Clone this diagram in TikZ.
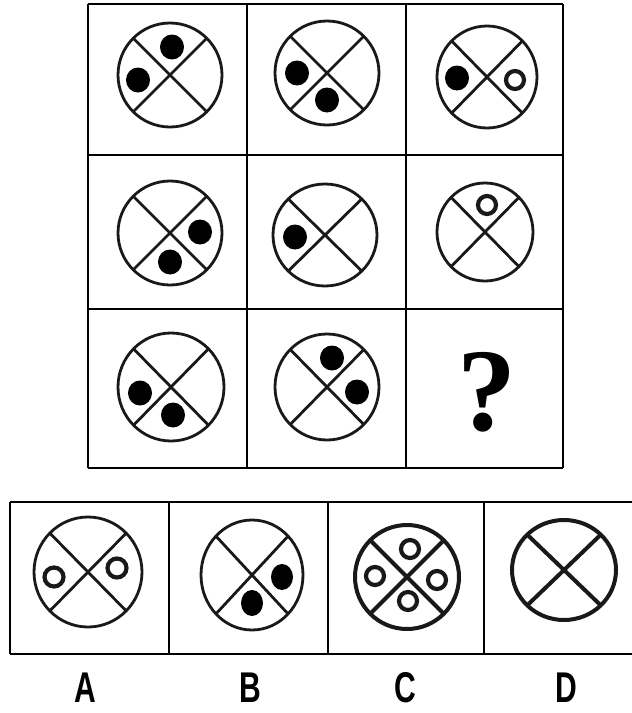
\documentclass[tikz,border=0pt]{standalone}
\usepackage{fontspec}
\newfontfamily\lblfont{Liberation Sans}
\newfontfamily\qfont{Liberation Serif}
\usetikzlibrary{calc}

% one crossed disc: [style] centre, x radius, y radius
\newcommand{\emblem}[4][rim]{%
  \draw[#1] (#2) ellipse[x radius=#3, y radius=#4];
  \draw[#1] ($(#2)+(-0.707*#3,-0.707*#4)$) -- ($(#2)+(0.707*#3,0.707*#4)$);
  \draw[#1] ($(#2)+(-0.707*#3,0.707*#4)$) -- ($(#2)+(0.707*#3,-0.707*#4)$);
}

\begin{document}
\begin{tikzpicture}[
  x=1pt, y=-1pt,
  frame/.style  = {black, line width=2pt},
  rim/.style    = {black!90, line width=2.8pt},
  rimbold/.style= {black!90, line width=4pt},
  dot/.style    = {fill=black},
  hole/.style   = {draw=black!90, line width=4.2pt},
  qmark/.style  = {font=\qfont\bfseries\fontsize{118}{118}\selectfont, inner sep=0pt},
  optlbl/.style = {font=\lblfont\bfseries\fontsize{43}{43}\selectfont, xscale=0.7, inner sep=0pt},
]
\useasboundingbox (0,0) rectangle (632,713);

%% ------------------------------------------------------------------ GRID
\foreach \x in {88,247,406,563}
  \draw[frame] (\x,4) -- (\x,468);
\foreach \y in {4,155,309,468}
  \draw[frame] (88,\y) -- (563,\y);

\coordinate (e11) at (170,75);
\coordinate (e12) at (327,73);
\coordinate (e13) at (487,77);
\coordinate (e21) at (170,233);
\coordinate (e22) at (325,235);
\coordinate (e23) at (485,232);
\coordinate (e31) at (171,387);
\coordinate (e32) at (327,387);

\emblem{e11}{52}{52}
\emblem{e12}{52}{52}
\emblem{e13}{50}{51}
\emblem{e21}{52}{52}
\emblem{e22}{52}{51}
\emblem{e23}{48}{49}
\emblem{e31}{53}{54}
\emblem{e32}{52}{53}

% row 1
\fill[dot] (e11) ++(2,-28) circle[x radius=12, y radius=12.5];
\fill[dot] (e11) ++(-32,5) circle[x radius=12, y radius=12.5];
\fill[dot] (e12) ++(-30,0) circle[x radius=12, y radius=12.5];
\fill[dot] (e12) ++(0,27) circle[x radius=12, y radius=12.5];
\fill[dot] (e13) ++(-30,1) circle[x radius=12, y radius=12.5];
\draw[hole] (e13) ++(28,3) circle[radius=9];
% row 2
\fill[dot] (e21) ++(30,-1) circle[x radius=12, y radius=12.5];
\fill[dot] (e21) ++(0,29) circle[x radius=12, y radius=12.5];
\fill[dot] (e22) ++(-30,2) circle[x radius=12, y radius=12.5];
\draw[hole] (e23) ++(2,-27) circle[radius=9];
% row 3
\fill[dot] (e31) ++(-31,6) circle[x radius=12, y radius=12.5];
\fill[dot] (e31) ++(2,28) circle[x radius=12, y radius=12.5];
\fill[dot] (e32) ++(5,-29) circle[x radius=12, y radius=12.5];
\fill[dot] (e32) ++(30,5) circle[x radius=12, y radius=12.5];

\node[qmark] (q) at (486.5,392.5) {?};

%% ------------------------------------------------------------------ OPTIONS
\draw[frame] (10,502) -- (632,502);
\draw[frame] (10,654) -- (632,654);
\foreach \x in {10,169,328,484}
  \draw[frame] (\x,502) -- (\x,654);

\coordinate (oa) at (88,572);
\coordinate (ob) at (252,575);
\coordinate (oc) at (407,577);
\coordinate (od) at (564,570);

\emblem{oa}{54}{55}
\emblem{ob}{51}{55}
\emblem[rimbold]{oc}{52}{52}
\emblem[rimbold]{od}{52}{50}

\draw[hole] (oa) ++(-34,5) circle[radius=9.5];
\draw[hole] (oa) ++(29,-4) circle[radius=9.5];
\fill[dot] (ob) ++(30,2) circle[x radius=11, y radius=13];
\fill[dot] (ob) ++(0,28) circle[x radius=11, y radius=13];
\draw[hole] (oc) ++(3,-28) circle[radius=9];
\draw[hole] (oc) ++(-32,-1) circle[radius=9];
\draw[hole] (oc) ++(30,3) circle[radius=9];
\draw[hole] (oc) ++(1,24) circle[radius=9];

\node[optlbl] (la) at (85,687.5)  {A};
\node[optlbl] (lb) at (250,687.5) {B};
\node[optlbl] (lc) at (405,687.5) {C};
\node[optlbl] (ld) at (566,687.5) {D};

\end{tikzpicture}
\end{document}
